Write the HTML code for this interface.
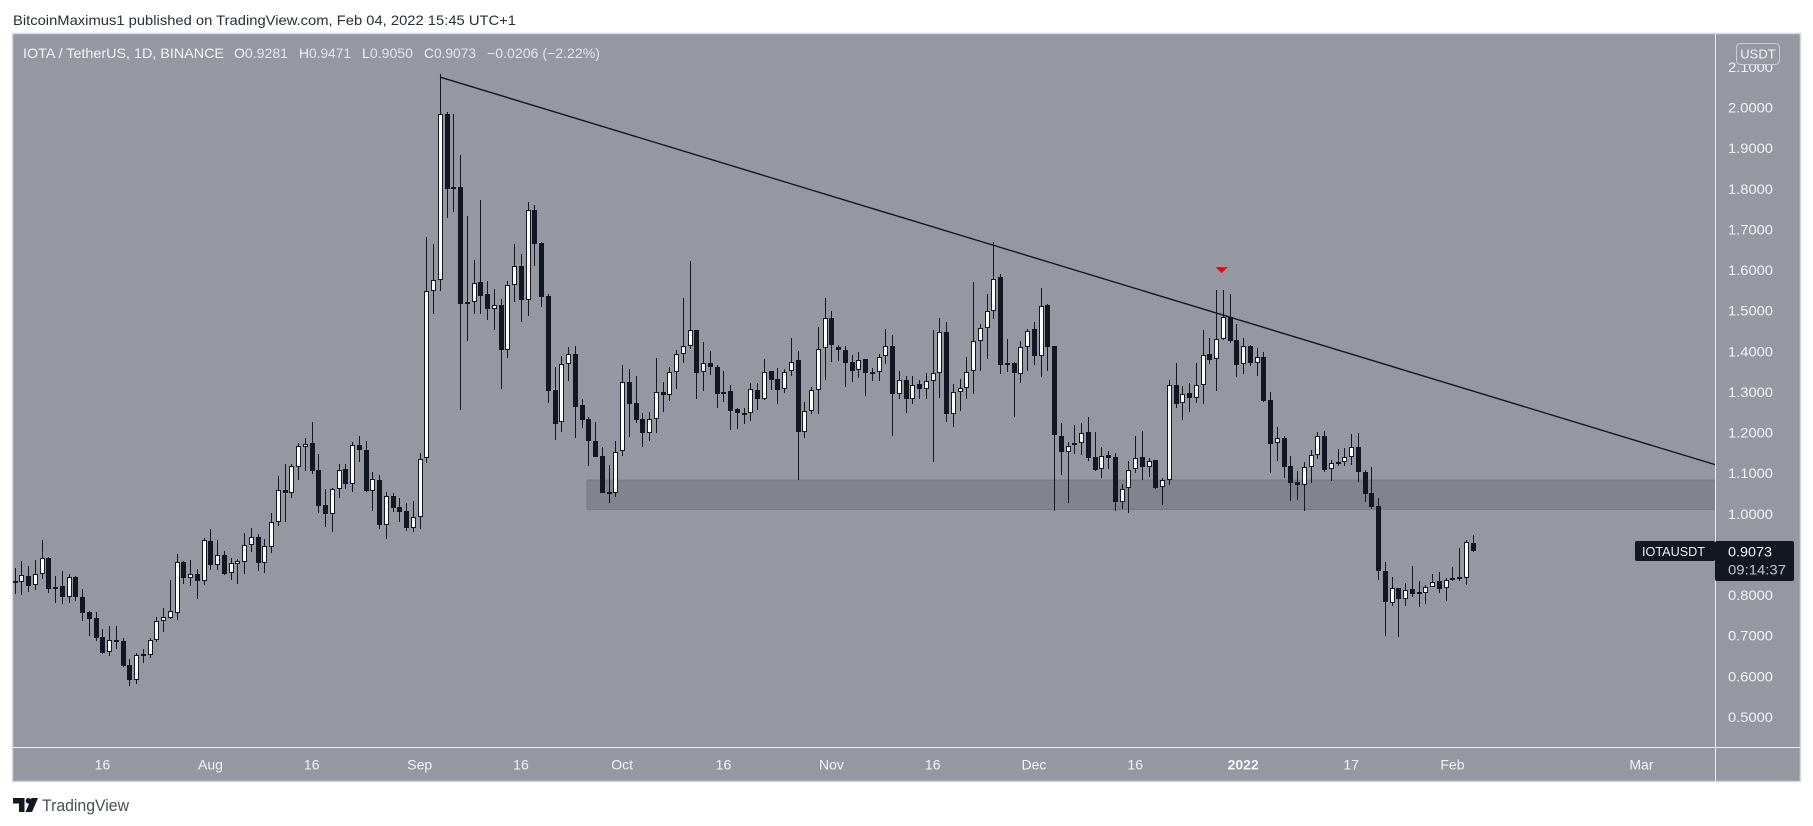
<!DOCTYPE html>
<html lang="en">
<head>
<meta charset="utf-8">
<title>IOTA / TetherUS chart</title>
<style>
html,body{margin:0;padding:0;background:#fff;width:1813px;height:826px;overflow:hidden}
svg{display:block;font-family:"Liberation Sans",Arial,sans-serif}
</style>
</head>
<body>
<svg id="chart" xmlns="http://www.w3.org/2000/svg" width="1813" height="826" viewBox="0 0 1813 826">
  <defs><clipPath id="pane-clip"><rect x="13" y="34" width="1702" height="713"/></clipPath></defs>
  <text x="13" y="25" font-size="14" fill="#2a2e39" textLength="503" lengthAdjust="spacingAndGlyphs">BitcoinMaximus1 published on TradingView.com, Feb 04, 2022 15:45 UTC+1</text>

  <rect x="12.5" y="33.5" width="1788" height="748" fill="#9598a1" stroke="#d6d8df" stroke-width="1.5"/>
  <g id="zone-layer" clip-path="url(#pane-clip)"></g>
  <g id="candle-layer" clip-path="url(#pane-clip)"></g>
  <g id="drawing-layer" clip-path="url(#pane-clip)"></g>

  <line x1="13" x2="1800" y1="747.5" y2="747.5" stroke="#eceef2" stroke-width="1"/>
  <line x1="1715.5" x2="1715.5" y1="34" y2="781" stroke="#eceef2" stroke-width="1"/>
  <g id="price-axis"></g>
  <g id="time-axis"></g>

  <g font-size="14" fill="#f2f3f6">
    <text x="23" y="58" textLength="201" lengthAdjust="spacingAndGlyphs">IOTA / TetherUS, 1D, BINANCE</text>
    <text x="234" y="58" textLength="54" lengthAdjust="spacingAndGlyphs">O<tspan fill="#e3e5ea">0.9281</tspan></text>
    <text x="299" y="58" textLength="52" lengthAdjust="spacingAndGlyphs">H<tspan fill="#e3e5ea">0.9471</tspan></text>
    <text x="362" y="58" textLength="51" lengthAdjust="spacingAndGlyphs">L<tspan fill="#e3e5ea">0.9050</tspan></text>
    <text x="424" y="58" textLength="52" lengthAdjust="spacingAndGlyphs">C<tspan fill="#e3e5ea">0.9073</tspan></text>
    <text x="487" y="58" textLength="113" lengthAdjust="spacingAndGlyphs" fill="#e3e5ea">−0.0206 (−2.22%)</text>
  </g>

  <g>
    <rect x="1736.5" y="43.5" width="43" height="21" rx="4" fill="#9598a1" stroke="#c9ccd4"/>
    <text x="1758" y="58.5" font-size="13" fill="#f2f3f6" text-anchor="middle">USDT</text>
  </g>

  <g>
    <rect x="1635" y="541" width="80" height="20" rx="2" fill="#131722"/>
    <text x="1642" y="556" font-size="13" fill="#eceef2" textLength="63" lengthAdjust="spacingAndGlyphs">IOTAUSDT</text>
    <rect x="1715" y="541" width="79" height="40" rx="2" fill="#131722"/>
    <text x="1728" y="556.5" font-size="14" fill="#f2f3f6" textLength="44" lengthAdjust="spacingAndGlyphs">0.9073</text>
    <text x="1728" y="574.5" font-size="14" fill="#c3c6ce" textLength="58" lengthAdjust="spacingAndGlyphs">09:14:37</text>
  </g>

  <g>
    <path d="M13 798h11.5v14h-5.5v-8.5h-6z" fill="#131722"/>
    <circle cx="28.5" cy="800.8" r="2.8" fill="#131722"/>
    <path d="M31.5 798h6.5l-6 14h-6.5z" fill="#131722"/>
    <text x="42" y="811" font-size="17" fill="#4a4d57" textLength="87" lengthAdjust="spacingAndGlyphs">TradingView</text>
  </g>
</svg>
<script>
const opens=[.829,.833,.847,.824,.853,.891,.816,.822,.794,.845,
.795,.758,.744,.696,.659,.689,.687,.627,.592,.655,
.653,.689,.735,.744,.757,.881,.843,.852,.835,.933,
.875,.899,.854,.877,.882,.922,.943,.880,.919,.981,
1.059,1.052,1.114,1.165,1.174,1.108,1.022,1.000,1.060,1.110,
1.074,1.169,1.157,1.057,1.083,.973,1.044,1.017,1.007,.966,
.991,1.137,1.548,1.575,1.983,1.804,1.804,1.521,1.521,1.570,
1.540,1.505,1.513,1.402,1.562,1.609,1.525,1.747,1.667,1.535,
1.304,1.225,1.368,1.393,1.267,1.233,1.179,1.142,1.054,1.051,
1.154,1.324,1.272,1.233,1.200,1.233,1.299,1.292,1.348,1.394,
1.412,1.452,1.348,1.372,1.361,1.294,1.302,1.257,1.247,1.247,
1.304,1.283,1.351,1.331,1.306,1.351,1.378,1.202,1.254,1.304,
1.407,1.481,1.411,1.403,1.373,1.353,1.380,1.349,1.348,1.388,
1.412,1.296,1.329,1.283,1.319,1.306,1.328,1.347,1.447,1.246,
1.301,1.310,1.351,1.426,1.458,1.498,1.582,1.370,1.370,1.345,
1.410,1.454,1.389,1.513,1.412,1.191,1.151,1.174,1.174,1.201,
1.139,1.110,1.144,1.139,1.030,1.063,1.110,1.139,1.114,1.132,
1.066,1.083,1.316,1.272,1.297,1.286,1.316,1.393,1.380,1.430,
1.485,1.427,1.368,1.412,1.372,1.385,1.279,1.174,1.186,1.117,
1.079,1.072,1.115,1.144,1.191,1.110,1.127,1.127,1.139,1.164,
1.103,1.051,1.019,.859,.781,.817,.791,.815,.808,.804,
.819,.835,.817,.836,.844,.841,.9281];
const highs=[.866,.884,.872,.886,.935,.894,.847,.859,.853,.847,
.815,.760,.758,.716,.724,.724,.694,.643,.657,.667,
.694,.745,.768,.837,.900,.885,.886,.864,.940,.963,
.935,.908,.890,.889,.952,.964,.950,.937,1.002,1.093,
1.122,1.122,1.174,1.187,1.225,1.146,1.061,1.063,1.122,1.122,
1.177,1.191,1.178,1.103,1.096,1.054,1.051,1.039,1.027,1.032,
1.150,1.681,1.664,2.082,1.988,1.984,1.883,1.733,1.624,1.772,
1.573,1.553,1.529,1.573,1.664,1.639,1.767,1.760,1.669,1.540,
1.362,1.388,1.410,1.413,1.282,1.239,1.226,1.165,1.120,1.179,
1.366,1.357,1.339,1.247,1.250,1.383,1.324,1.361,1.403,1.531,
1.622,1.452,1.422,1.401,1.366,1.352,1.316,1.260,1.260,1.323,
1.323,1.380,1.352,1.359,1.357,1.432,1.401,1.274,1.312,1.459,
1.531,1.498,1.415,1.413,1.391,1.397,1.380,1.359,1.394,1.455,
1.439,1.351,1.339,1.338,1.329,1.346,1.452,1.482,1.472,1.319,
1.332,1.386,1.571,1.467,1.541,1.668,1.589,1.430,1.374,1.425,
1.456,1.472,1.555,1.516,1.413,1.223,1.177,1.219,1.224,1.239,
1.202,1.165,1.155,1.149,1.074,1.130,1.192,1.204,1.138,1.133,
1.088,1.330,1.371,1.315,1.322,1.371,1.452,1.433,1.551,1.551,
1.541,1.467,1.433,1.415,1.407,1.398,1.300,1.214,1.192,1.143,
1.106,1.127,1.157,1.202,1.204,1.133,1.160,1.162,1.197,1.199,
1.108,1.116,1.039,.882,.844,.818,.829,.872,.835,.825,
.852,.857,.841,.868,.916,.936,.9471];
const lows=[.803,.801,.808,.813,.840,.806,.781,.779,.781,.786,
.737,.699,.688,.656,.650,.667,.624,.577,.580,.634,
.646,.685,.709,.740,.739,.828,.822,.790,.825,.862,
.862,.849,.837,.827,.852,.906,.859,.855,.904,.970,
.980,1.039,1.083,1.105,1.099,1.002,.968,.955,1.039,1.061,
1.054,1.128,1.054,1.007,.963,.938,1.005,.980,.957,.955,
.963,1.126,1.492,1.549,1.729,1.744,1.256,1.426,1.492,1.492,
1.477,1.452,1.306,1.384,1.521,1.472,1.487,1.611,1.509,1.273,
1.182,1.202,1.327,1.187,1.211,1.118,1.141,1.052,1.027,1.041,
1.142,1.189,1.224,1.165,1.179,1.199,1.251,1.278,1.307,1.371,
1.405,1.282,1.302,1.342,1.260,1.275,1.206,1.209,1.221,1.229,
1.256,1.281,1.305,1.270,1.298,1.339,1.083,1.187,1.246,1.246,
1.329,1.374,1.376,1.312,1.324,1.335,1.290,1.327,1.327,1.369,
1.192,1.282,1.248,1.270,1.282,1.283,1.128,1.286,1.226,1.214,
1.253,1.283,1.295,1.351,1.380,1.479,1.344,1.348,1.238,1.322,
1.351,1.366,1.337,1.351,1.008,1.096,1.027,1.148,1.145,1.131,
1.106,1.088,1.111,1.008,1.012,1.001,1.101,1.083,1.091,1.061,
1.022,1.071,1.261,1.231,1.251,1.273,1.270,1.369,1.302,1.428,
1.420,1.337,1.344,1.364,1.339,1.275,1.101,1.130,1.088,1.032,
1.034,1.007,1.076,1.135,1.103,1.081,1.118,1.118,1.120,1.079,
1.029,1.013,.838,.700,.772,.698,.773,.795,.771,.778,
.819,.805,.786,.835,.835,.825,.9050];
const closes=[.834,.849,.823,.853,.890,.816,.821,.794,.844,.794,
.757,.741,.695,.658,.689,.685,.626,.592,.652,.651,
.689,.735,.745,.760,.881,.843,.851,.835,.935,.875,
.898,.853,.879,.883,.922,.942,.880,.920,.979,1.058,
1.051,1.117,1.166,1.173,1.105,1.019,1.000,1.060,1.109,1.073,
1.169,1.157,1.056,1.085,.973,1.043,1.014,1.005,.965,.991,
1.134,1.548,1.575,1.983,1.800,1.800,1.517,1.517,1.567,1.537,
1.505,1.513,1.402,1.562,1.609,1.525,1.747,1.665,1.534,1.303,
1.222,1.368,1.393,1.264,1.232,1.178,1.141,1.052,1.050,1.153,
1.325,1.271,1.232,1.200,1.233,1.299,1.293,1.348,1.394,1.412,
1.452,1.347,1.372,1.362,1.296,1.301,1.254,1.247,1.244,1.306,
1.282,1.350,1.330,1.305,1.350,1.374,1.202,1.252,1.304,1.406,
1.481,1.415,1.402,1.372,1.352,1.379,1.347,1.346,1.387,1.412,
1.296,1.330,1.283,1.318,1.306,1.328,1.347,1.447,1.246,1.301,
1.310,1.350,1.426,1.458,1.498,1.579,1.367,1.367,1.347,1.410,
1.451,1.389,1.512,1.411,1.193,1.151,1.168,1.170,1.198,1.138,
1.108,1.143,1.138,1.029,1.062,1.109,1.138,1.114,1.131,1.064,
1.083,1.316,1.270,1.296,1.286,1.316,1.392,1.379,1.430,1.484,
1.425,1.367,1.412,1.372,1.385,1.278,1.173,1.186,1.116,1.077,
1.072,1.115,1.144,1.191,1.108,1.125,1.123,1.139,1.164,1.102,
1.049,1.017,.858,.782,.817,.791,.812,.803,.804,.819,
.832,.815,.836,.841,.840,.930,.9073];
const priceTicks=[2.1,2.0,1.9,1.8,1.7,1.6,1.5,1.4,1.3,1.2,1.1,1.0,0.9,0.8,0.7,0.6,0.5];
const timeTickLabels=["16","Aug","16","Sep","16","Oct","16","Nov","16","Dec","16","2022","17","Feb","Mar"];
const timeTickBars=[13,29,44,60,75,90,105,121,136,151,166,182,198,213,241];
const trendBars=[63,251.9];
const trendPrices=[2.075,1.121];
const zoneStartBar=84.8;
const zoneEndBar=252;
const zoneTop=1.083;
const zoneBottom=1.011;
const markerBar=178.8;
const markerTop=1.607;
const markerBottom=1.592;

const SVGNS='http://www.w3.org/2000/svg';
function xScale(i){return 14.7+6.75*i;}
function yScale(p){return 107.5+(2-p)*406.3;}
function make(tag,attrs){
  const el=document.createElementNS(SVGNS,tag);
  for(const k in attrs){el.setAttribute(k,attrs[k]);}
  return el;
}
const DARK='#131722';

/* support zone */
const zoneLayer=document.getElementById('zone-layer');
const zone=make('rect',{x:xScale(zoneStartBar),y:yScale(zoneTop),width:xScale(zoneEndBar)-xScale(zoneStartBar),height:yScale(zoneBottom)-yScale(zoneTop),fill:'#81848d',stroke:'#74777f','stroke-width':1});


zoneLayer.appendChild(zone);

/* candles */
const candleLayer=document.getElementById('candle-layer');
opens.forEach(function(o,i){
  const c=closes[i];
  const up=c>=o;
  const cx=Math.round(xScale(i));
  const g=make('g',{});
  
  
  const yH=Math.round(yScale(highs[i]));
  const yL=Math.round(yScale(lows[i]));
  const yT=Math.round(yScale(Math.max(o,c)));
  const yB=Math.round(yScale(Math.min(o,c)));
  const wick=make('rect',{x:cx,y:yH,width:1,height:Math.max(1,yL-yH),fill:DARK,'shape-rendering':'crispEdges'});
  
  
  g.appendChild(wick);
  const h=Math.max(2,yB-yT);
  let body;
  if(up){
    body=make('rect',{x:cx-1.5,y:yT+0.5,width:4,height:h-1,fill:'#ffffff',stroke:DARK,'stroke-width':1,'shape-rendering':'crispEdges'});
  }else{
    body=make('rect',{x:cx-2,y:yT,width:5,height:h,fill:DARK,'shape-rendering':'crispEdges'});
  }
  
  
  g.appendChild(body);
  candleLayer.appendChild(g);
});

/* drawings */
const drawingLayer=document.getElementById('drawing-layer');
const trend=make('line',{x1:xScale(trendBars[0]),y1:yScale(trendPrices[0]),x2:xScale(trendBars[1]),y2:yScale(trendPrices[1]),stroke:'#131722','stroke-width':1.4});


drawingLayer.appendChild(trend);
const mx=xScale(markerBar);
const marker=make('polygon',{points:[(mx-6)+','+yScale(markerTop),(mx+6)+','+yScale(markerTop),mx+','+yScale(markerBottom)].join(' '),fill:'#ff0000'});


drawingLayer.appendChild(marker);

/* price axis */
const priceAxis=document.getElementById('price-axis');
priceTicks.forEach(function(p){
  const t=make('text',{x:1728,y:yScale(p)+5,'font-size':14,fill:'#f2f3f6',textLength:45,lengthAdjust:'spacingAndGlyphs'});
  
  
  t.textContent=p.toFixed(4);
  priceAxis.appendChild(t);
});

/* time axis */
const timeAxis=document.getElementById('time-axis');
timeTickLabels.forEach(function(label,i){
  const isMajor=label==='2022';
  const t=make('text',{x:xScale(timeTickBars[i]),y:769.5,'font-size':14,fill:'#f2f3f6','text-anchor':'middle','font-weight':isMajor?'bold':'normal'});
  
  
  t.textContent=label;
  timeAxis.appendChild(t);
});
</script>
</body>
</html>
